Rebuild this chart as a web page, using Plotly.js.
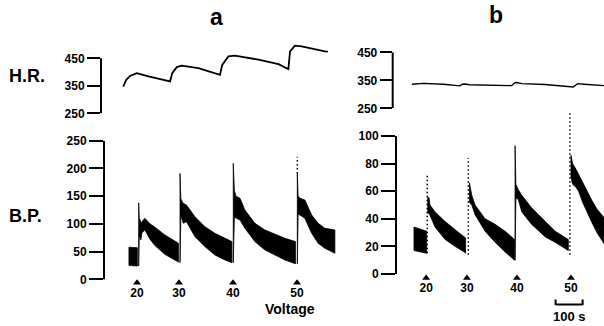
<!DOCTYPE html>
<html><head><meta charset="utf-8">
<script src="https://cdn.plot.ly/plotly-3.0.1.min.js"></script>
<style>html,body{margin:0;padding:0;background:#fff}#c{width:604px;height:326px}</style>
</head><body><div id="c"></div>
<script>
// ---- data (time in s, H.R. in beats/min, B.P. in mmHg) ----
const voltages = ['20','30','40','50'];
const stimA_t = [52, 207, 407, 644];
const stimB_t = [56, 207, 392, 592];

const hrA_t = [1, 12, 26, 51, 94, 174, 182, 199, 217, 279, 359, 367, 390, 414, 501, 575, 612, 618, 636, 661, 747, 758];
const hrA_v = [347, 372, 386, 396, 384, 366, 396, 418, 423, 414, 390, 426, 457, 460, 445, 429, 411, 475, 496, 493, 475, 474];

const hrB_t = [3, 46, 120, 181, 190, 200, 215, 311, 373, 382, 391, 410, 496, 600, 610, 617, 640, 706, 714];
const hrB_v = [336, 339, 336, 330, 336, 337, 334, 333, 331, 340, 342, 338, 335, 326, 334, 338, 336, 332, 331];

// B.P. envelopes (systolic / diastolic), segments separated by null
const bpA_t   = [22, 53, null,
                 58, 60, 63, 66, 70, 81, 100, 118, 155, 192, 205, null,
                 211, 214, 223, 235, 266, 303, 340, 377, 403, null,
                 408, 412, 418, 433, 451, 488, 525, 562, 599, 638, null,
                 645, 648, 655, 673, 698, 722, 747, 784];
const bpA_sys = [58, 57, null,
                 138, 110, 108, 100, 104, 110, 100, 94, 80, 70, 65, null,
                 191, 145, 137, 134, 113, 95, 83, 74, 68, null,
                 209, 160, 150, 146, 125, 101, 89, 81, 74, 68, null,
                 191, 150, 146, 143, 116, 101, 92, 89];
const bpA_dia = [25, 24, null,
                 24, 80, 76, 71, 84, 89, 72, 61, 45, 35, 31, null,
                 30, 115, 101, 104, 77, 59, 44, 35, 30, null,
                 30, 112, 110, 107, 92, 68, 53, 44, 35, 28, null,
                 28, 118, 116, 110, 83, 65, 56, 47];

const bpB_t   = [11, 58, null,
                 62, 67, 70, 89, 126, 163, 197, 202, null,
                 216, 225, 237, 274, 311, 348, 383, null,
                 385, 388, 397, 410, 446, 496, 533, 582, null,
                 592, 598, 610, 620, 635, 651, 670, 688, 714];
const bpB_sys = [34, 31, null,
                 56, 55, 50, 45, 38, 32, 27, 26, null,
                 66, 57, 50, 40, 36, 31, 25, null,
                 93, 65, 61, 57, 48, 38, 31, 25, null,
                 86, 80, 76, 72, 66, 60, 53, 47, 41];
const bpB_dia = [17, 15, null,
                 44, 44, 43, 34, 25, 20, 16, 15, null,
                 52, 50, 43, 31, 23, 16, 10, null,
                 10, 55, 54, 45, 36, 27, 23, 17, null,
                 70, 65, 63, 60, 52, 45, 37, 30, 22];

// dotted spikes (time, from, to)
const spikeA_t = [645], spikeA_from = [191], spikeA_to = [221];
const spikeB_t = [60, 212, 588], spikeB_from = [15, 14, 14], spikeB_to = [73, 84, 118];

const hrTicks = [250, 350, 450];
const bpATicks = [0, 50, 100, 150, 200, 250];
const bpBTicks = [0, 20, 40, 60, 80, 100];
const scaleBarLen = 100;

// ---- helpers ----
const W = 604, H = 326;
const FONT = '"Liberation Sans", Arial, sans-serif';
const SPP = 3.7; // seconds per pixel
const xd = (l, r) => [l / W, r / W];
const yd = (b, t) => [1 - b / H, 1 - t / H];
const tA = p => (p - 123) * SPP;
const tB = p => (p - 411) * SPP;

function bandPolygon(t, hi, lo) {
  const X = [], Y = [];
  let seg = [];
  const flush = () => {
    if (!seg.length) return;
    seg.forEach(i => { X.push(t[i]); Y.push(hi[i]); });
    seg.slice().reverse().forEach(i => { X.push(t[i]); Y.push(lo[i]); });
    X.push(t[seg[0]]); Y.push(hi[seg[0]]);
    X.push(null); Y.push(null);
    seg = [];
  };
  t.forEach((v, i) => { if (v === null) flush(); else seg.push(i); });
  flush();
  return {X, Y};
}
function spikes(t, a, b) {
  const X = [], Y = [];
  t.forEach((v, i) => { X.push(v, v, null); Y.push(a[i], b[i], null); });
  return {X, Y};
}

const pa = bandPolygon(bpA_t, bpA_sys, bpA_dia);
const pb = bandPolygon(bpB_t, bpB_sys, bpB_dia);
const sa = spikes(spikeA_t, spikeA_from, spikeA_to);
const sb = spikes(spikeB_t, spikeB_from, spikeB_to);

const tickFont = {family: FONT, size: 12, color: '#000'};
const stimFont = {family: FONT, size: 12, color: '#000'};
const bold = a => a.map(v => '<b>' + v + '</b>');

const traces = [
  {x: hrA_t, y: hrA_v, xaxis: 'x', yaxis: 'y', mode: 'lines', line: {color: '#000', width: 1.8}, hoverinfo: 'skip'},
  {x: hrB_t, y: hrB_v, xaxis: 'x2', yaxis: 'y2', mode: 'lines', line: {color: '#000', width: 1.4}, hoverinfo: 'skip'},
  {x: pa.X, y: pa.Y, xaxis: 'x3', yaxis: 'y3', mode: 'lines', fill: 'toself', fillcolor: '#000', line: {color: '#000', width: 0.8}, hoverinfo: 'skip'},
  {x: pb.X, y: pb.Y, xaxis: 'x4', yaxis: 'y4', mode: 'lines', fill: 'toself', fillcolor: '#000', line: {color: '#000', width: 0.8}, hoverinfo: 'skip'},
  {x: sa.X, y: sa.Y, xaxis: 'x3', yaxis: 'y3', mode: 'lines', line: {color: '#000', width: 1.5, dash: '1.5px,2.5px'}, hoverinfo: 'skip'},
  {x: sb.X, y: sb.Y, xaxis: 'x4', yaxis: 'y4', mode: 'lines', line: {color: '#000', width: 1.5, dash: '1.5px,2.5px'}, hoverinfo: 'skip'},
  {x: stimA_t, y: stimA_t.map(() => -6), xaxis: 'x3', yaxis: 'y3', mode: 'markers+text', text: bold(voltages),
   textposition: 'bottom center', textfont: stimFont, cliponaxis: false,
   marker: {symbol: 'triangle-up', size: 7, color: '#000'}, hoverinfo: 'skip'},
  {x: stimB_t, y: stimB_t.map(() => -3), xaxis: 'x4', yaxis: 'y4', mode: 'markers+text', text: bold(voltages),
   textposition: 'bottom center', textfont: stimFont, cliponaxis: false,
   marker: {symbol: 'triangle-up', size: 7, color: '#000'}, hoverinfo: 'skip'}
];

function yax(dom, range, ticks, len) {
  return {domain: dom, range: range, tickmode: 'array', tickvals: ticks, ticktext: bold(ticks),
          ticks: 'outside', ticklen: len, tickwidth: 2,
          tickcolor: '#000', showline: false, showgrid: false, zeroline: false, tickfont: tickFont,
          fixedrange: true};
}
function xax(dom, range, anchor) {
  return {domain: dom, range: range, visible: false, anchor: anchor, fixedrange: true};
}

const layout = {
  width: W, height: H, margin: {l: 0, r: 0, t: 0, b: 0},
  paper_bgcolor: '#fff', plot_bgcolor: 'rgba(0,0,0,0)', showlegend: false,
  xaxis:  xax(xd(101, 340), [tA(101), tA(340)], 'y'),
  yaxis:  Object.assign(yax(yd(113.3, 39.05), [250, 520], hrTicks, 13), {anchor: 'x'}),
  xaxis2: xax(xd(392.7, 604), [tB(392.7), tB(604)], 'y2'),
  yaxis2: Object.assign(yax(yd(108.3, 52.3), [250, 450], hrTicks, 12), {anchor: 'x2'}),
  xaxis3: xax(xd(104, 340), [tA(104), tA(340)], 'y3'),
  yaxis3: Object.assign(yax(yd(290.4, 140.7), [-20, 250], bpATicks, 14), {anchor: 'x3'}),
  xaxis4: xax(xd(396, 604), [tB(396), tB(604)], 'y4'),
  yaxis4: Object.assign(yax(yd(285, 101.5), [-8, 125], bpBTicks, 14), {anchor: 'x4'}),
  shapes: [
    {type: 'line', xref: 'x domain', yref: 'y', x0: 0, x1: 0, y0: hrTicks[0], y1: hrTicks[hrTicks.length-1], line: {color: '#000', width: 2}},
    {type: 'line', xref: 'x2 domain', yref: 'y2', x0: 0, x1: 0, y0: hrTicks[0], y1: hrTicks[hrTicks.length-1], line: {color: '#000', width: 2}},
    {type: 'line', xref: 'x3 domain', yref: 'y3', x0: 0, x1: 0, y0: bpATicks[0], y1: bpATicks[bpATicks.length-1], line: {color: '#000', width: 2}},
    {type: 'line', xref: 'x4 domain', yref: 'y4', x0: 0, x1: 0, y0: bpBTicks[0], y1: bpBTicks[bpBTicks.length-1], line: {color: '#000', width: 2}},
    // 100 s scale bar
    {type: 'line', xref: 'x4', yref: 'paper', x0: 535, x1: 535 + scaleBarLen, y0: 1 - 304.5 / H, y1: 1 - 304.5 / H, line: {color: '#000', width: 2}},
    {type: 'line', xref: 'x4', yref: 'paper', x0: 535, x1: 535, y0: 1 - 299.5 / H, y1: 1 - 305 / H, line: {color: '#000', width: 2}},
    {type: 'line', xref: 'x4', yref: 'paper', x0: 535 + scaleBarLen, x1: 535 + scaleBarLen, y0: 1 - 299.5 / H, y1: 1 - 305 / H, line: {color: '#000', width: 2}}
  ],
  annotations: [
    {text: '<b>a</b>', xref: 'paper', yref: 'paper', x: 216 / W, y: 1 - 17 / H, showarrow: false, xanchor: 'center', yanchor: 'middle', font: {family: FONT, size: 23, color: '#000'}},
    {text: '<b>b</b>', xref: 'paper', yref: 'paper', x: 496 / W, y: 1 - 15 / H, showarrow: false, xanchor: 'center', yanchor: 'middle', font: {family: FONT, size: 23, color: '#000'}},
    {text: '<b>H.R.</b>', xref: 'paper', yref: 'paper', x: 27.5 / W, y: 1 - 76 / H, showarrow: false, xanchor: 'center', yanchor: 'middle', font: {family: FONT, size: 18, color: '#000'}},
    {text: '<b>B.P.</b>', xref: 'paper', yref: 'paper', x: 25.5 / W, y: 1 - 216 / H, showarrow: false, xanchor: 'center', yanchor: 'middle', font: {family: FONT, size: 18, color: '#000'}},
    {text: '<b>Voltage</b>', xref: 'paper', yref: 'paper', x: 290 / W, y: 1 - 309 / H, showarrow: false, xanchor: 'center', yanchor: 'middle', font: {family: FONT, size: 14, color: '#000'}},
    {text: '<b>' + scaleBarLen + ' s</b>', xref: 'x4', yref: 'paper', x: 535 + scaleBarLen / 2, y: 1 - 316 / H, showarrow: false, xanchor: 'center', yanchor: 'middle', font: {family: FONT, size: 13, color: '#000'}}
  ]
};

Plotly.newPlot('c', traces, layout, {staticPlot: true, displayModeBar: false});
</script>
</body></html>
